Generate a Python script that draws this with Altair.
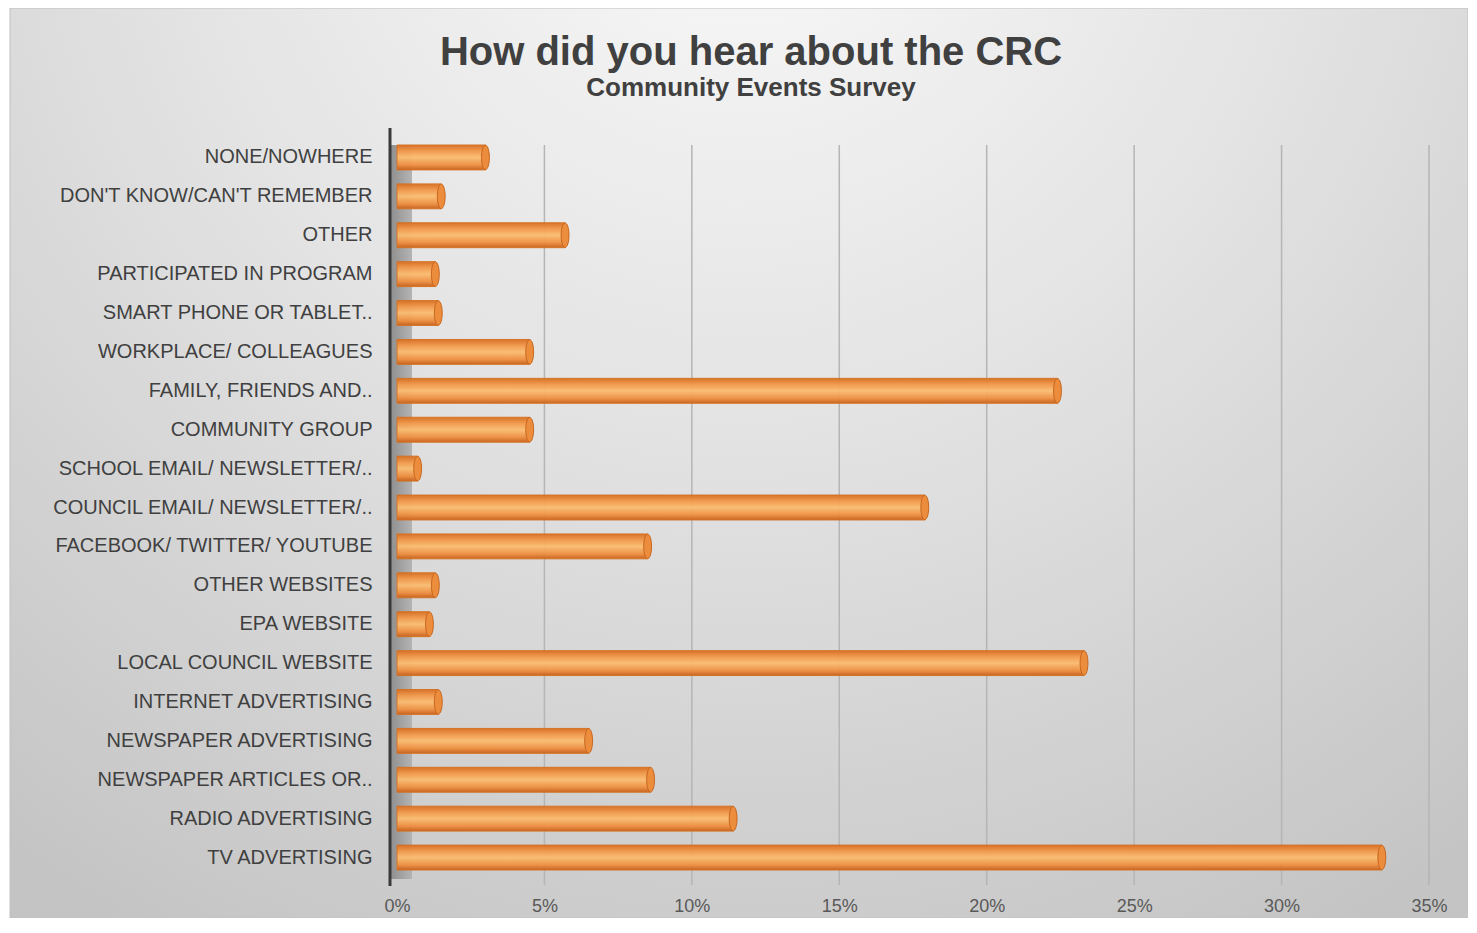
import altair as alt
import pandas as pd

categories = [
    "NONE/NOWHERE", "DON'T KNOW/CAN'T REMEMBER", "OTHER", "PARTICIPATED IN PROGRAM",
    "SMART PHONE OR TABLET..", "WORKPLACE/ COLLEAGUES", "FAMILY, FRIENDS AND..",
    "COMMUNITY GROUP", "SCHOOL EMAIL/ NEWSLETTER/..", "COUNCIL EMAIL/ NEWSLETTER/..",
    "FACEBOOK/ TWITTER/ YOUTUBE", "OTHER WEBSITES", "EPA WEBSITE", "LOCAL COUNCIL WEBSITE",
    "INTERNET ADVERTISING", "NEWSPAPER ADVERTISING", "NEWSPAPER ARTICLES OR..",
    "RADIO ADVERTISING", "TV ADVERTISING",
]
values = [0.030, 0.015, 0.057, 0.013, 0.014, 0.045, 0.224, 0.045, 0.007, 0.179,
          0.085, 0.013, 0.011, 0.233, 0.014, 0.065, 0.086, 0.114, 0.334]
ticks = [0.05, 0.10, 0.15, 0.20, 0.25, 0.30, 0.35]

W, H = 1032, 739
PAD = {"left": 389, "top": 130, "right": 39, "bottom": 41}
FONT = "Liberation Sans"

df = pd.DataFrame({"cat": categories, "val": values})
grid_df = pd.DataFrame({"t": ticks})
one = pd.DataFrame({"k": [0]})

xscale = alt.Scale(domain=[0, 0.35], nice=False)
yscale = alt.Scale(domain=categories, paddingInner=0.36, paddingOuter=0.18)

bg = alt.Chart(one).mark_rect(
    fill=alt.RadialGradient(
        gradient="radial",
        stops=[alt.GradientStop(offset=0, color="#fafafa"),
               alt.GradientStop(offset=0.45, color="#e4e4e4"),
               alt.GradientStop(offset=1, color="#c4c4c4")],
        x1=0.5, y1=0.08, r1=0, x2=0.5, y2=0.08, r2=0.85),
    stroke="#c0c0c0", strokeWidth=1,
).encode(
    x=alt.value(-PAD["left"] + 2), x2=alt.value(W + PAD["right"]),
    y=alt.value(-PAD["top"]), y2=alt.value(H + PAD["bottom"]),
)

wall = alt.Chart(one).mark_rect(
    fill=alt.LinearGradient(
        gradient="linear",
        stops=[alt.GradientStop(offset=0, color="#8e8e8e"),
               alt.GradientStop(offset=1, color="#b4b4b4")],
        x1=0, x2=1, y1=0, y2=0),
).encode(x=alt.value(-7), x2=alt.value(15), y=alt.value(7), y2=alt.value(H + 2))

axline = alt.Chart(one).mark_rule(color="#3a3a3a", strokeWidth=3).encode(
    x=alt.value(-7), y=alt.value(-10), y2=alt.value(H + 9))

grid = alt.Chart(grid_df).mark_rule(color="#b5b5b5", strokeWidth=1.5).encode(
    x=alt.X("t:Q", scale=xscale), y=alt.value(7), y2=alt.value(H + 8))

bars = alt.Chart(df).mark_bar(
    fill=alt.LinearGradient(
        gradient="linear",
        stops=[alt.GradientStop(offset=0, color="#d86f22"),
               alt.GradientStop(offset=0.25, color="#f29a4c"),
               alt.GradientStop(offset=0.5, color="#fbbd72"),
               alt.GradientStop(offset=0.8, color="#ee9042"),
               alt.GradientStop(offset=1, color="#c8611c")],
        x1=0, x2=0, y1=0, y2=1),
    stroke="#d6701f", strokeWidth=1, opacity=0.96,
).encode(
    x=alt.X("val:Q", scale=xscale,
            axis=alt.Axis(format=".0%", values=[0] + ticks, grid=False, domain=False,
                          ticks=False, labelFontSize=18, labelColor="#595959",
                          labelFont=FONT, labelPadding=20, labelFlush=False,
                          title=None, zindex=1)),
    y=alt.Y("cat:N", scale=yscale, sort=categories,
            axis=alt.Axis(grid=False, domain=False, ticks=False, labelFontSize=20,
                          labelColor="#404040", labelFont=FONT, labelPadding=25,
                          labelLimit=400, title=None, zindex=1)),
)

ellipse = "M0,-1 A0.32,1 0 1,1 0,1 A0.32,1 0 1,1 0,-1 Z"
caps = alt.Chart(df).mark_point(
    shape=ellipse, size=600, filled=True, fill="#ec8d3e", stroke="#c7651c",
    strokeWidth=1, opacity=1,
).encode(x=alt.X("val:Q", scale=xscale), y=alt.Y("cat:N", scale=yscale, sort=categories))

chart = alt.layer(bg, wall, axline, grid, bars, caps).properties(
    width=W, height=H,
    padding=PAD,
    autosize=alt.AutoSizeParams(type="none"),
    title=alt.TitleParams(
        text="How did you hear about the CRC", subtitle="Community Events Survey",
        font=FONT, subtitleFont=FONT, fontSize=40, subtitleFontSize=26,
        fontWeight="bold", subtitleFontWeight="bold", color="#404040",
        subtitleColor="#404040", anchor="middle", frame="group", dx=-162,
        offset=-93, subtitlePadding=2),
).configure_view(stroke=None).configure(background="white")

chart.save("out.html", embed_options={"renderer": "svg", "actions": False})
